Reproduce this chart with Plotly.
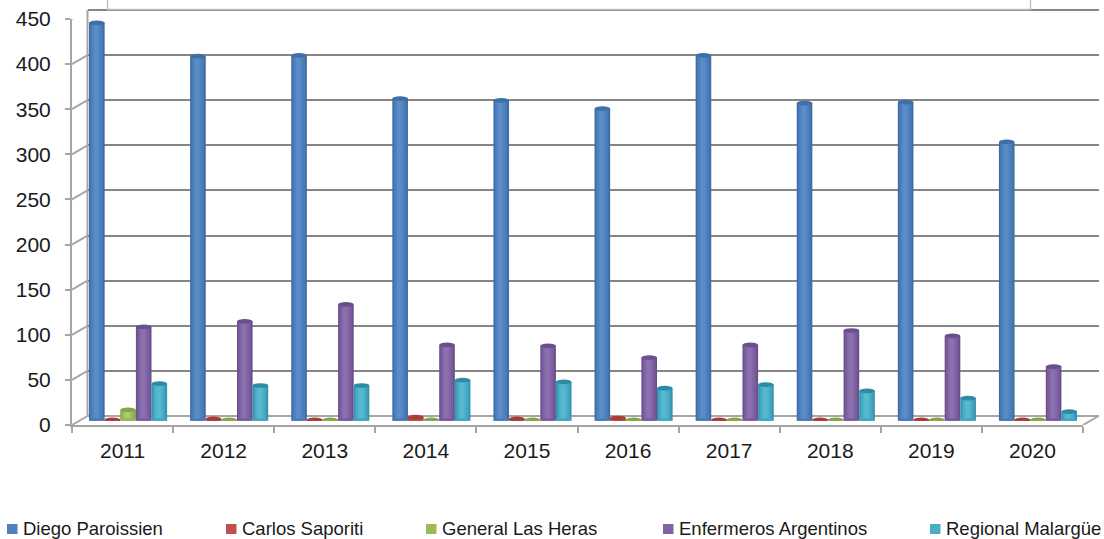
import plotly.graph_objects as go

years = ["2011", "2012", "2013", "2014", "2015", "2016", "2017", "2018", "2019", "2020"]
names = ["Diego Paroissien", "Carlos Saporiti", "General Las Heras", "Enfermeros Argentinos", "Regional Malargüe"]
diego = [441, 404, 405, 357, 355, 346, 405, 352, 353, 309]
carlos = [1, 2, 1, 4, 2, 3, 1, 1, 1, 1]
heras = [12, 1, 1, 1, 1, 1, 1, 1, 1, 1]
enfermeros = [104, 110, 129, 84, 83, 70, 84, 100, 94, 60]
malargue = [41, 39, 39, 45, 43, 36, 40, 33, 25, 10]
series = [diego, carlos, heras, enfermeros, malargue]
y_ticks = [0, 50, 100, 150, 200, 250, 300, 350, 400, 450]

# edge -> centre shades of each cylinder, then colour of the cap
shades = [
    ["#3d6ca6", "#4a7bb7", "#4f83c0", "#5a8cc8"],
    ["#a83c39", "#b84845", "#c0504d", "#c85f5c"],
    ["#86a548", "#96b654", "#a2c05f", "#aec96e"],
    ["#6a4f8c", "#7a5c9c", "#8166a6", "#8a70ae"],
    ["#3593ad", "#42a5c0", "#4bb0ca", "#58b8d0"],
]
caps = ["#3f6fa8", "#a83c39", "#86a548", "#6b4f8c", "#2f8aa3"]
legend_colors = ["#4f81bd", "#c0504d", "#9bbb59", "#8064a2", "#4bacc6"]

W, H = 1104, 539
FONT = "Liberation Sans, Arial, sans-serif"
def px(v): return v / W
def py(v): return 1 - v / H

FX0, FX1, FY0, FY1 = 72, 1083, 425, 19      # front edge of the chart box
BACK_DX, BACK_DY = 15.5, 9                   # depth of the back wall
BAR_DX, BAR_DY = 5.5, 4.3                    # bars stand mid-way in the depth
UNIT = (FY0 - FY1) / 450                     # pixels per value unit
PAD = 5                                      # extra value units around the back wall axis

fig = go.Figure()
bar_w = 0.1545
start = -0.386
factors = [1.0, 0.8, 0.55, 0.3]

for i, (vals, name) in enumerate(zip(series, names)):
    off = start + i * bar_w
    for f, col in zip(factors, shades[i]):
        w = bar_w * f
        fig.add_trace(go.Bar(
            x=years, y=vals, name=name, width=w, offset=off + (bar_w - w) / 2 - (1 - f) * 0.01,
            marker=dict(color=col, line=dict(width=0)),
            xaxis="x3", yaxis="y3", showlegend=False,
        ))

# invisible traces so the front and back-wall subplots exist
fig.add_trace(go.Scatter(x=years, y=[None] * len(years), xaxis="x", yaxis="y", showlegend=False, hoverinfo="skip"))
fig.add_trace(go.Scatter(x=years, y=[None] * len(years), xaxis="x2", yaxis="y2", showlegend=False, hoverinfo="skip"))

shapes = []
cap_h = 2.6
for i, vals in enumerate(series):
    off = start + i * bar_w
    for k, v in enumerate(vals):
        # bottom rounding
        shapes.append(dict(type="circle", xref="x3", yref="y3", layer="above",
                           x0=k + off, x1=k + off + bar_w, y0=-cap_h, y1=cap_h,
                           fillcolor=shades[i][1], line=dict(width=0)))
for i, vals in enumerate(series):
    off = start + i * bar_w
    for k, v in enumerate(vals):
        shapes.append(dict(type="circle", xref="x3", yref="y3", layer="above",
                           x0=k + off, x1=k + off + bar_w, y0=v - cap_h, y1=v + cap_h,
                           fillcolor=caps[i], line=dict(width=0)))

# diagonal connectors at each tick of the value axis
for t in y_ticks:
    shapes.append(dict(type="line", xref="paper", yref="y", ysizemode="pixel", yanchor=t,
                       x0=px(FX0), x1=px(FX0 + BACK_DX), y0=0, y1=BACK_DY,
                       line=dict(color="#a6a6a6", width=2), layer="below"))
# floor: right diagonal
shapes.append(dict(type="line", xref="paper", yref="y", ysizemode="pixel", yanchor=0,
                   x0=px(FX1), x1=px(FX1 + BACK_DX), y0=0, y1=BACK_DY,
                   line=dict(color="#a6a6a6", width=2), layer="below"))
# back wall vertical
shapes.append(dict(type="line", xref="paper", yref="paper",
                   x0=px(FX0 + BACK_DX), x1=px(FX0 + BACK_DX), y0=py(FY0 - BACK_DY), y1=py(FY1 - BACK_DY),
                   line=dict(color="#a6a6a6", width=2), layer="below"))
# white title box overlapping the top of the chart
shapes.append(dict(type="rect", xref="paper", yref="paper",
                   x0=px(107.5), x1=px(1030.5), y0=py(9.5), y1=py(-5),
                   fillcolor="white", line=dict(color="#bfbfbf", width=1.3), layer="above"))

annotations = []
legend_x = [7, 226, 426, 663, 930]
for name, col, lx in zip(names, legend_colors, legend_x):
    shapes.append(dict(type="rect", xref="paper", yref="paper",
                       x0=px(lx), x1=px(lx + 10.5), y0=py(534), y1=py(524),
                       fillcolor=col, line=dict(width=0)))
    annotations.append(dict(text=name, xref="paper", yref="paper", x=px(lx + 13.5), y=py(528),
                            xanchor="left", yanchor="middle", showarrow=False,
                            font=dict(family=FONT, size=18.5, color="#1a1a1a")))

hidden = dict(showgrid=False, zeroline=False, showticklabels=False, ticks="", showline=False, fixedrange=True,
              automargin=False)
tickfont = dict(family=FONT, size=21, color="#1a1a1a")

fig.update_layout(
    width=W, height=H, autosize=False, margin=dict(l=0, r=0, t=0, b=0),
    paper_bgcolor="white", plot_bgcolor="rgba(0,0,0,0)",
    barmode="overlay", showlegend=False, shapes=shapes, annotations=annotations,
    font=dict(family=FONT, size=21, color="#1a1a1a"),
    xaxis=dict(domain=[px(FX0), px(FX1)], type="category", categoryorder="array", categoryarray=years,
               range=[-0.5, 9.5], tickson="boundaries", ticks="outside", ticklen=6, tickwidth=2,
               tickcolor="#a6a6a6", showline=True, linecolor="#a6a6a6", linewidth=2, showgrid=False,
               anchor="y", ticklabelstandoff=6, tickfont=tickfont, fixedrange=True, automargin=False),
    yaxis=dict(domain=[py(FY0), py(FY1)], range=[0, 450], tickvals=y_ticks, ticks="outside", ticklen=5, tickwidth=2,
               tickcolor="#a6a6a6", showline=True, linecolor="#a6a6a6", linewidth=2, showgrid=False, zeroline=False,
               anchor="x", ticklabelstandoff=10, tickfont=tickfont, fixedrange=True, automargin=False),
    xaxis2=dict(domain=[px(FX0 + BACK_DX), px(FX1 + BACK_DX)], type="category", categoryarray=years, range=[-0.5, 9.5],
                anchor="y2", **hidden),
    yaxis2=dict(domain=[py(FY0 - BACK_DY + PAD * UNIT), py(FY1 - BACK_DY - PAD * UNIT)], range=[-PAD, 450 + PAD],
                tickvals=y_ticks, anchor="x2", showgrid=True, gridcolor="#868686", gridwidth=2,
                zeroline=True, zerolinecolor="#a6a6a6", zerolinewidth=2, showticklabels=False, ticks="",
                showline=False, fixedrange=True, automargin=False),
    xaxis3=dict(domain=[px(FX0 + BAR_DX), px(FX1 + BAR_DX)], type="category", categoryarray=years, range=[-0.5, 9.5],
                anchor="y3", **hidden),
    yaxis3=dict(domain=[py(FY0 - BAR_DY), py(FY1 - BAR_DY)], range=[0, 450], anchor="x3", **hidden),
)

fig.write_html("out.html", config=dict(displayModeBar=False, responsive=False),
               post_script="document.body.style.margin='0';document.documentElement.style.overflow='hidden';")
